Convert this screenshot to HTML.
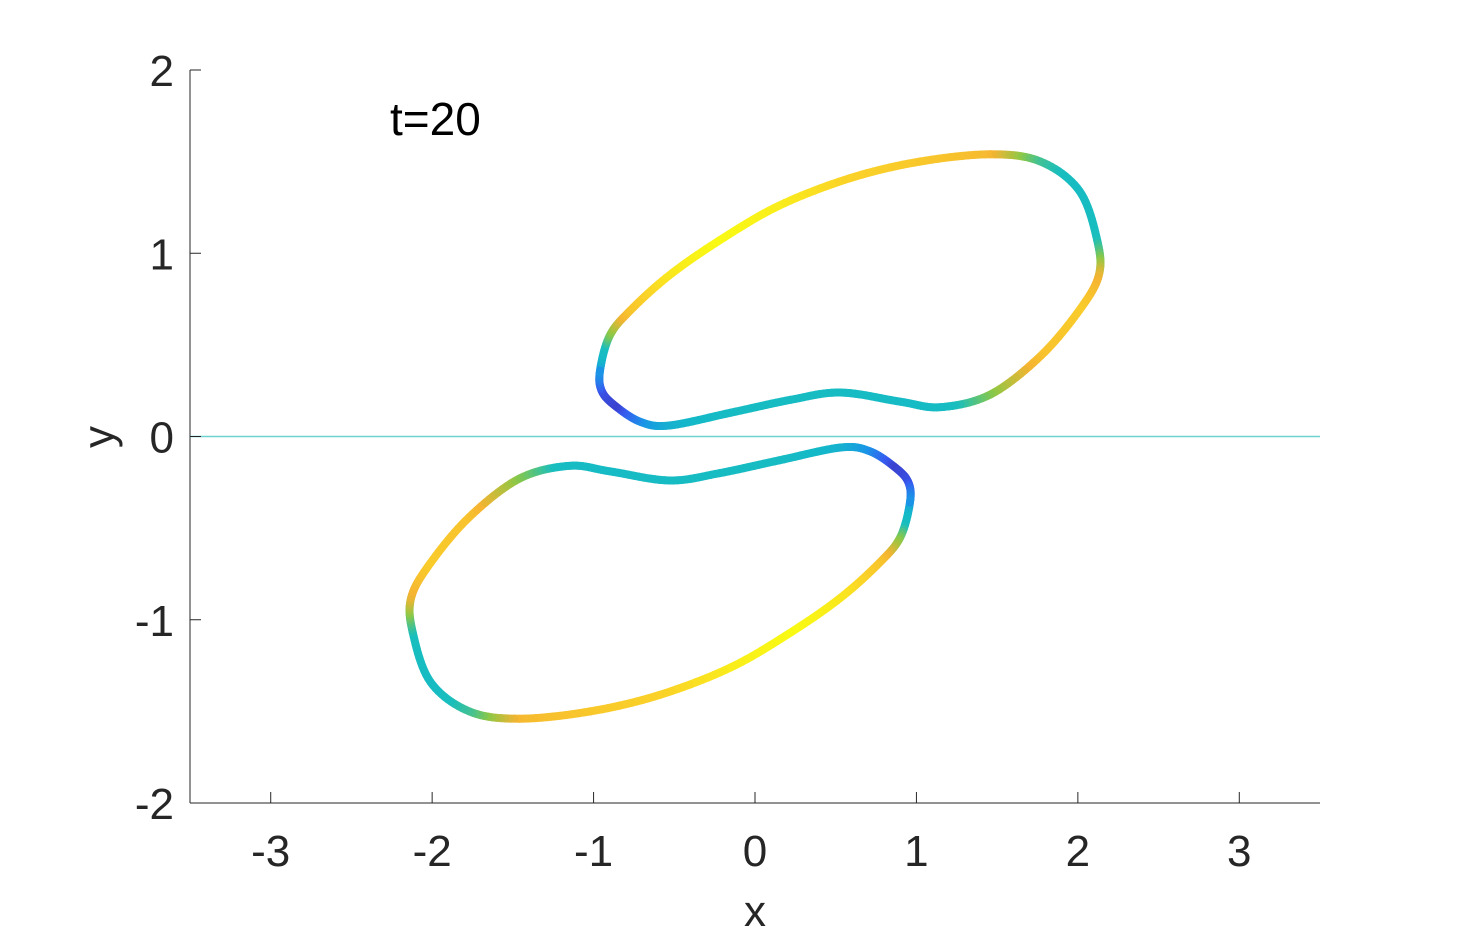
<!DOCTYPE html>
<html><head><meta charset="utf-8">
<style>
html,body{margin:0;padding:0;background:#fff;}
svg{display:block;font-family:"Liberation Sans",sans-serif;}
</style></head>
<body>
<svg id="chart" width="1458" height="938" viewBox="0 0 1458 938">
  <g id="axes"></g>
  <g id="curves"></g>
  <text x="390" y="135" font-size="46" fill="#000">t=20</text>
  <text x="755" y="926" font-size="44" fill="#262626" text-anchor="middle">x</text>
  <text x="102" y="437" font-size="44" fill="#262626" text-anchor="middle" transform="rotate(-90 102 437)" dominant-baseline="middle">y</text>
</svg>
<script>
const xTicks=[-3,-2,-1,0,1,2,3];
const yTicks=[-2,-1,0,1,2];
const upperX=[-0.96,-0.90,-0.77,-0.53,-0.22,0.15,0.59,1.02,1.46,1.77,2.01,2.12,2.13,2.01,1.77,1.46,1.15,0.90,0.53,0.22,-0.15,-0.53,-0.71,-0.87,-0.95];
const upperY=[0.36,0.55,0.69,0.88,1.07,1.26,1.41,1.50,1.54,1.50,1.34,1.07,0.88,0.69,0.44,0.23,0.16,0.19,0.24,0.20,0.13,0.06,0.08,0.17,0.25];
const upperC=[0.3,0.65,0.85,0.95,1.0,0.97,0.9,0.87,0.82,0.6,0.5,0.55,0.78,0.88,0.85,0.68,0.5,0.48,0.5,0.5,0.5,0.42,0.3,0.08,0.12];
const lowerX=upperX.map(v=>-v);
const lowerY=upperY.map(v=>-v);
const lowerC=upperC.slice();

const NS="http://www.w3.org/2000/svg";
const X0=190,X1=1320,Y0=803,Y1=70;
function sx(v){return X0+(v+3.5)/7*(X1-X0);}
function sy(v){return Y0-(v+2)/4*(Y0-Y1);}
function mk(tag,attrs,parent){const e=document.createElementNS(NS,tag);for(const k in attrs)e.setAttribute(k,attrs[k]);parent.appendChild(e);return e;}

const axes=document.getElementById('axes');
let l=mk('line',{x1:X0,y1:Y0,x2:X1,y2:Y0,stroke:'#262626','stroke-width':1},axes);


l=mk('line',{x1:X0,y1:Y0,x2:X0,y2:Y1,stroke:'#262626','stroke-width':1},axes);


l=mk('line',{x1:X0,y1:sy(0),x2:X1,y2:sy(0),stroke:'#6fd3cf','stroke-width':1.5},axes);


xTicks.forEach(t=>{
  const tk=mk('line',{x1:sx(t),y1:Y0,x2:sx(t),y2:Y0-11,stroke:'#262626','stroke-width':1},axes);
  
  
  const tx=mk('text',{x:sx(t),y:866,'font-size':44,fill:'#262626','text-anchor':'middle'},axes);
  tx.textContent=String(t);
  
  
});
yTicks.forEach(t=>{
  const tk=mk('line',{x1:X0,y1:sy(t),x2:X0+11,y2:sy(t),stroke:'#262626','stroke-width':1},axes);
  
  
  const tx=mk('text',{x:174,y:sy(t)+16,'font-size':44,fill:'#262626','text-anchor':'end'},axes);
  tx.textContent=String(t);
  
  
});

const stops=[[0,[62,38,168]],[0.15,[55,90,240]],[0.3,[25,150,230]],[0.45,[20,185,200]],[0.55,[25,190,190]],[0.68,[140,200,70]],[0.8,[245,180,50]],[0.9,[250,210,40]],[1,[249,250,20]]];
function parula(c){c=Math.max(0,Math.min(1,c));for(let i=1;i<stops.length;i++){if(c<=stops[i][0]){const a=stops[i-1],b=stops[i];const f=(c-a[0])/(b[0]-a[0]);return 'rgb('+a[1].map((v,j)=>Math.round(v+(b[1][j]-v)*f)).join(',')+')';}}return 'rgb(249,250,20)';}

const curves=document.getElementById('curves');
function drawCurve(xs,ys,cs,name){
  const g=mk('g',{},curves);
  
  
  const n=xs.length,pts=[];
  for(let i=0;i<n;i++){
    const p0=i-1<0?n-1:i-1,p1=i,p2=(i+1)%n,p3=(i+2)%n;
    for(let s=0;s<12;s++){
      const t=s/12,t2=t*t,t3=t2*t;
      const cr=(a,b,c,d)=>0.5*(2*b+(-a+c)*t+(2*a-5*b+4*c-d)*t2+(-a+3*b-3*c+d)*t3);
      pts.push([sx(cr(xs[p0],xs[p1],xs[p2],xs[p3])),sy(cr(ys[p0],ys[p1],ys[p2],ys[p3])),cs[p1]+(cs[p2]-cs[p1])*t]);
    }
  }
  for(let i=0;i<pts.length;i++){
    const a=pts[i],b=pts[(i+1)%pts.length];
    const seg=mk('line',{x1:a[0],y1:a[1],x2:b[0],y2:b[1],stroke:parula((a[2]+b[2])/2),'stroke-width':8,'stroke-linecap':'round'},g);
    
    
  }
}
drawCurve(upperX,upperY,upperC,'upper-curve');
drawCurve(lowerX,lowerY,lowerC,'lower-curve');
</script>
</body></html>
